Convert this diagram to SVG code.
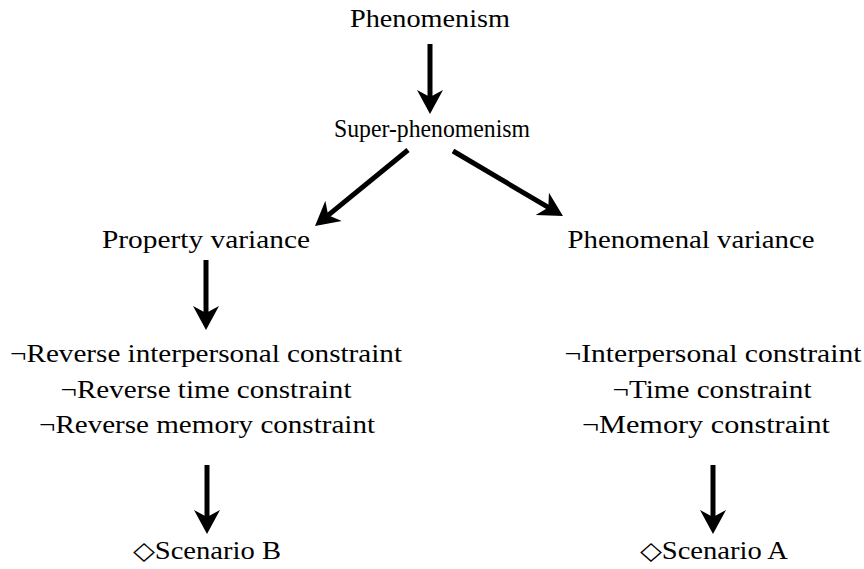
<svg xmlns="http://www.w3.org/2000/svg" width="864" height="569" viewBox="0 0 864 569">
<style>
text{font-family:"Liberation Serif","Times New Roman",serif;font-size:25px;fill:#000;text-anchor:middle}
.c line{stroke:#000;stroke-width:5;marker-end:url(#ah)}
</style>
<defs>
<marker id="ah" markerUnits="userSpaceOnUse" markerWidth="26" markerHeight="28" refX="8" refY="13" orient="auto" viewBox="0 0 26 26">
<path d="M0,0 L24,13 L0,26 L7,13 Z" fill="#000"/>
</marker>
</defs>
<rect width="864" height="569" fill="#fff"/>
<g id="n-phenomenism"><text x="430" y="27" textLength="160" lengthAdjust="spacingAndGlyphs">Phenomenism</text></g>
<g id="n-super"><text x="432" y="137" textLength="196" lengthAdjust="spacingAndGlyphs">Super-phenomenism</text></g>
<g id="n-property"><text x="206" y="248" textLength="208" lengthAdjust="spacingAndGlyphs">Property variance</text></g>
<g id="n-phenomenal"><text x="691" y="248" textLength="247" lengthAdjust="spacingAndGlyphs">Phenomenal variance</text></g>
<g id="n-reverse">
<text x="206" y="362" textLength="392" lengthAdjust="spacingAndGlyphs">¬Reverse interpersonal constraint</text>
<text x="206" y="398" textLength="291" lengthAdjust="spacingAndGlyphs">¬Reverse time constraint</text>
<text x="207" y="433" textLength="336" lengthAdjust="spacingAndGlyphs">¬Reverse memory constraint</text>
</g>
<g id="n-constraints">
<text x="713" y="362" textLength="297" lengthAdjust="spacingAndGlyphs">¬Interpersonal constraint</text>
<text x="712" y="398" textLength="199" lengthAdjust="spacingAndGlyphs">¬Time constraint</text>
<text x="706" y="433" textLength="248" lengthAdjust="spacingAndGlyphs">¬Memory constraint</text>
</g>
<g id="n-scenB"><text x="207" y="559" textLength="148" lengthAdjust="spacingAndGlyphs">◇Scenario B</text></g>
<g id="n-scenA"><text x="714" y="559" textLength="148" lengthAdjust="spacingAndGlyphs">◇Scenario A</text></g>
<g id="connectors" class="c">
<line x1="430" y1="44" x2="430" y2="98"/>
<line x1="408" y1="150" x2="327.4" y2="215.9"/>
<line x1="453" y1="151" x2="549.2" y2="207.9"/>
<line x1="206" y1="260" x2="206" y2="314"/>
<line x1="207" y1="465" x2="207" y2="518"/>
<line x1="713" y1="465" x2="713" y2="518"/>
</g>
</svg>
